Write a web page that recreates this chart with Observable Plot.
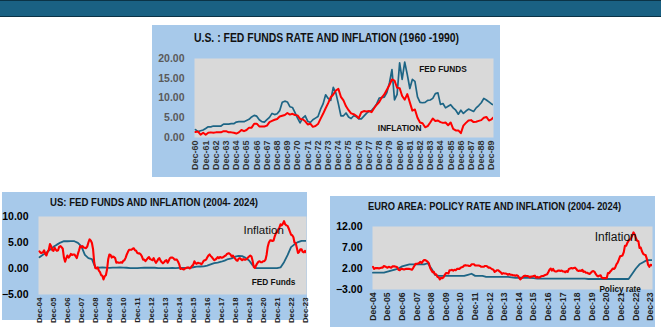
<!DOCTYPE html>
<html><head><meta charset="utf-8">
<script src="https://cdn.jsdelivr.net/npm/d3@7"></script>
<script src="https://cdn.jsdelivr.net/npm/@observablehq/plot@0.6"></script>
<style>
body{margin:0;width:661px;height:330px;overflow:hidden;background:#fff;font-family:"Liberation Sans",Arial,sans-serif;position:relative}
.bar{position:absolute;left:0;top:0;width:661px;height:15px;background:#1a6183;border-top:1px solid #0b3346;border-bottom:1px solid #0b3346}
.panel{position:absolute;background:#a7c9ea}
.title{position:absolute;white-space:nowrap;font-weight:bold;color:#111;transform-origin:left center;line-height:1}
.chart{position:absolute}
</style></head><body>
<div class="bar"></div>
<div class="panel" style="left:152px;top:25px;width:348px;height:152px"></div>
<div class="panel" style="left:2px;top:192px;width:305px;height:128px"></div>
<div class="panel" style="left:330px;top:196px;width:325px;height:131px"></div>
<script>
// ---- Data ----
const topYears = [1960, 1989];
const topFedFunds = [
2.0,
1.5,1.7,1.9,2.3, 2.7,2.7,2.9,2.9, 2.9,2.9,3.4,3.4, 3.4,3.5,3.5,3.9, 4.0,4.0,4.0,4.3,
4.6,5.2,5.6,5.4, 4.5,4.0,3.9,4.5, 5.1,6.1,5.8,6.0, 6.8,8.9,9.2,9.0, 7.8,7.6,6.3,4.9,
3.7,4.9,5.5,4.1, 3.8,4.5,4.9,5.3, 7.1,8.5,10.8,9.9, 9.4,12.7,11.3,8.5, 5.5,5.5,6.2,5.2,
4.8,5.5,5.3,4.7, 4.7,5.4,6.1,6.6, 6.8,7.6,8.5,10.0, 10.1,10.2,11.4,13.8, 17.2,9.5,10.9,18.9,
14.7,19.1,15.9,12.4, 14.7,14.2,10.3,8.9, 8.8,8.9,9.4,9.5, 9.9,11.1,11.3,8.4, 8.6,7.5,7.9,8.3,
7.5,6.9,5.9,6.9, 6.1,6.7,7.2,6.9, 6.6,7.5,8.1,8.8, 9.9,9.5,9.0,8.5,
8.2];
const topInflation = [
1.4,
1.5,0.7,1.2,0.7, 1.2,1.3,1.2,1.3, 1.3,1.3,1.6,1.6, 1.3,1.3,1.2,1.0, 1.3,1.9,1.6,1.9,
2.5,2.5,3.5,3.5, 2.8,2.8,2.8,3.0, 3.9,4.2,4.5,4.7, 5.3,5.5,5.7,6.2, 5.8,6.0,5.7,5.6,
4.7,4.6,4.1,3.3, 3.5,2.7,2.9,3.4, 4.7,6.0,7.4,8.7, 10.2,10.9,11.9,12.3, 10.3,9.4,7.9,6.9,
6.1,5.9,5.5,4.9, 6.4,6.7,6.6,6.7, 6.4,7.4,8.3,9.0, 10.1,10.9,12.1,13.3, 14.7,14.4,12.6,12.5,
10.5,9.6,11.0,8.9, 6.8,7.1,5.0,3.8, 3.6,2.6,2.9,3.8, 4.8,4.2,4.3,3.9, 3.7,3.8,3.1,3.8,
2.2,1.8,1.8,1.1, 3.0,3.7,4.3,4.4, 3.9,4.0,4.2,4.4, 5.0,5.2,4.3,4.6,
5.2];

const recentYears = [2004, 2023];
const usFedFunds = [
2.16,
2.63,3.04,3.62,4.16, 4.59,4.99,5.25,5.24, 5.26,5.25,4.94,4.24, 2.61,2.00,1.81,0.16,
0.18,0.21,0.15,0.12, 0.16,0.18,0.19,0.18, 0.14,0.09,0.08,0.07, 0.13,0.16,0.14,0.16,
0.14,0.09,0.08,0.09, 0.08,0.10,0.09,0.12, 0.11,0.13,0.14,0.24, 0.36,0.38,0.40,0.54,
0.79,1.04,1.15,1.30, 1.51,1.82,1.95,2.27, 2.41,2.38,2.04,1.55, 0.65,0.08,0.09,0.09,
0.07,0.08,0.08,0.08, 0.20,1.21,2.56,4.10, 4.65,5.08,5.33,5.33,
5.33];
const usInflation = [
3.3,
3.0,3.0,3.1,3.5,2.8,2.5,3.2,3.6,4.7,4.3,3.5,3.4,
4.0,3.6,3.4,3.5,4.2,4.3,4.1,3.8,2.1,1.3,2.0,2.5,
2.1,2.4,2.8,2.6,2.7,2.7,2.4,2.0,2.8,3.5,4.3,4.1,
4.3,4.0,4.0,3.9,4.2,5.0,5.6,5.4,4.9,3.7,1.1,0.1,
0.0,0.2,-0.4,-0.7,-1.3,-1.4,-2.1,-1.5,-1.3,-0.2,1.8,2.7,
2.6,2.1,2.3,2.2,2.0,1.1,1.2,1.1,1.1,1.2,1.1,1.5,
1.6,2.1,2.7,3.2,3.6,3.6,3.6,3.8,3.9,3.5,3.4,3.0,
2.9,2.9,2.7,2.3,1.7,1.7,1.4,1.7,2.0,2.2,1.8,1.7,
1.6,2.0,1.5,1.1,1.4,1.8,2.0,1.5,1.2,1.0,1.2,1.5,
1.6,1.1,1.5,2.0,2.1,2.1,2.0,1.7,1.7,1.7,1.3,0.8,
-0.1,0.0,-0.1,-0.2,0.0,0.1,0.2,0.2,0.0,0.2,0.5,0.7,
1.4,1.0,0.9,1.1,1.0,1.0,0.8,1.1,1.5,1.6,1.7,2.1,
2.5,2.7,2.4,2.2,1.9,1.6,1.7,1.9,2.2,2.0,2.2,2.1,
2.1,2.2,2.4,2.5,2.8,2.9,2.9,2.7,2.3,2.5,2.2,1.9,
1.6,1.5,1.9,2.0,1.8,1.6,1.8,1.7,1.7,1.8,2.1,2.3,
2.5,2.3,1.5,0.3,0.1,0.6,1.0,1.3,1.4,1.2,1.2,1.4,
1.4,1.7,2.6,4.2,5.0,5.4,5.4,5.3,5.4,6.2,6.8,7.0,
7.5,7.9,8.5,8.3,8.6,9.1,8.5,8.3,8.2,7.7,7.1,6.5,
6.4,6.0,5.0,4.9,4.0,3.0,3.2,3.7,3.7,3.2,3.1,3.4,
3.1,3.2];

const euroPolicyRate = [
1.0,
1.0,1.0,1.0,1.25, 1.5,1.75,2.0,2.5, 2.75,3.0,3.0,3.0, 3.0,3.0,3.25,2.0,
0.5,0.25,0.25,0.25, 0.25,0.25,0.25,0.25, 0.25,0.5,0.75,0.25, 0.25,0.25,0.0,0.0,
0.0,0.0,0.0,0.0, 0.0,-0.1,-0.2,-0.2, -0.2,-0.2,-0.2,-0.3, -0.4,-0.4,-0.4,-0.4,
-0.4,-0.4,-0.4,-0.4, -0.4,-0.4,-0.4,-0.4, -0.4,-0.4,-0.5,-0.5, -0.5,-0.5,-0.5,-0.5,
-0.5,-0.5,-0.5,-0.5, -0.5,-0.5,0.75,2.0, 3.0,3.5,4.0,4.0,
4.0];
const euroInflation = [
2.4,
1.9,2.1,2.1,2.1,2.0,2.1,2.2,2.2,2.6,2.5,2.3,2.2,
2.4,2.3,2.2,2.5,2.5,2.5,2.4,2.3,1.7,1.6,1.9,1.9,
1.8,1.8,1.9,1.9,1.9,1.9,1.8,1.7,2.1,2.6,3.1,3.1,
3.2,3.3,3.6,3.3,3.7,4.0,4.0,3.8,3.6,3.2,2.1,1.6,
1.1,1.2,0.6,0.6,0.0,-0.1,-0.6,-0.2,-0.3,-0.1,0.5,0.9,
0.9,0.8,1.6,1.6,1.7,1.5,1.7,1.6,1.9,1.9,1.9,2.2,
2.3,2.4,2.7,2.8,2.7,2.7,2.6,2.6,3.0,3.0,3.0,2.7,
2.7,2.7,2.7,2.6,2.4,2.4,2.4,2.6,2.6,2.5,2.2,2.2,
2.0,1.8,1.7,1.2,1.4,1.6,1.6,1.3,1.1,0.7,0.9,0.8,
0.8,0.7,0.5,0.7,0.5,0.5,0.4,0.4,0.3,0.4,0.3,-0.2,
-0.6,-0.3,-0.1,0.2,0.3,0.2,0.2,0.1,-0.1,0.1,0.1,0.2,
0.3,-0.2,0.0,-0.2,-0.1,0.1,0.2,0.2,0.4,0.5,0.6,1.1,
1.7,2.0,1.5,1.9,1.4,1.3,1.3,1.5,1.5,1.4,1.5,1.3,
1.3,1.1,1.4,1.2,1.9,2.0,2.1,2.0,2.1,2.2,1.9,1.5,
1.4,1.5,1.4,1.7,1.2,1.3,1.0,1.0,0.8,0.7,1.0,1.3,
1.4,1.2,0.7,0.3,0.1,0.3,0.4,-0.2,-0.3,-0.3,-0.3,-0.3,
0.9,0.9,1.3,1.6,2.0,1.9,2.2,3.0,3.4,4.1,4.9,5.0,
5.1,5.9,7.4,7.4,8.1,8.6,8.9,9.1,9.9,10.6,10.1,9.2,
8.6,8.5,6.9,7.0,6.1,5.5,5.3,5.2,4.3,2.9,2.4,2.9,
2.8,2.6];

const titles = [
  "U.S. : FED FUNDS RATE AND INFLATION (1960 -1990)",
  "US: FED FUNDS AND INFLATION (2004- 2024)",
  "EURO AREA: POLICY RATE AND INFLATION (2004- 2024)"
];
const topNotes = [{label: "FED FUNDS", date: "1985-03-01", value: 17.2}, {label: "INFLATION", date: "1980-12-01", value: 2.3}];
const usNotes = [{label: "Inflation", date: "2020-12-15", value: 7.3, big: true}, {label: "FED Funds", date: "2021-09-01", value: -2.7}];
const euroNotes = [{label: "Inflation", date: "2021-07-15", value: 9.4, big: true}, {label: "Policy rate", date: "2021-11-01", value: -3.0}];

// ---- helpers ----
const D = (y, m, d = 1) => new Date(Date.UTC(y, m, d));
const series = (y0, m0, step, vals) => vals.map((v, i) => ({date: D(y0, m0 + step * i), value: v}));
const decTicks = ([a, b]) => d3.range(a, b + 1).map(y => D(y, 11));
const notes = arr => arr.map(n => ({...n, date: new Date(n.date + "T00:00:00Z")}));
const TEAL = "#1d6585", RED = "#ff0000", GRAY = "#d9d9d9";
const FONT = "Liberation Sans, Arial, sans-serif";

function chart({left, top, width, height, mt, mr, mb, ml, xdom, years, ydom, yticks, rate, infl, nts, yfill, xfill, xsize, ysize, noteSize, bigSize, lw}) {
  const p = Plot.plot({
    width, height, marginTop: mt, marginRight: mr, marginBottom: mb, marginLeft: ml,
    style: {background: "none", overflow: "visible", fontFamily: FONT},
    x: {type: "utc", domain: xdom},
    y: {domain: ydom},
    marks: [
      Plot.frame({fill: GRAY, stroke: "none"}),
      Plot.axisY({ticks: yticks, tickFormat: d3.format(".2f"), tickSize: 0, tickPadding: 10, fontSize: ysize, fontWeight: "bold", fill: yfill, label: null}),
      Plot.axisX({ticks: decTicks(years), tickFormat: d3.utcFormat("%b-%y"), tickRotate: -90, tickSize: 0, tickPadding: 3, fontSize: xsize, fontWeight: "bold", fill: xfill, label: null}),
      Plot.line(rate, {x: "date", y: "value", stroke: TEAL, strokeWidth: lw, clip: true}),
      Plot.line(infl, {x: "date", y: "value", stroke: RED, strokeWidth: lw + 0.3, clip: true}),
      Plot.text(nts.filter(d => !d.big), {x: "date", y: "value", text: "label", fontSize: noteSize, fontWeight: "bold", fill: "#111"}),
      Plot.text(nts.filter(d => d.big), {x: "date", y: "value", text: "label", fontSize: bigSize, fill: "#111"})
    ]
  });
  const div = document.createElement("div");
  div.className = "chart";
  div.style.left = left + "px"; div.style.top = top + "px";
  div.appendChild(p);
  document.body.appendChild(div);
}

function addTitle(text, cx, cy, w, size) {
  const d = document.createElement("div");
  d.className = "title"; d.textContent = text; d.style.fontSize = size + "px";
  document.body.appendChild(d);
  const r = d.getBoundingClientRect();
  d.style.left = (cx - w / 2) + "px";
  d.style.top = (cy - r.height / 2) + "px";
  d.style.transform = `scaleX(${w / r.width})`;
}

chart({left: 152, top: 50, width: 348, height: 127, mt: 8, mr: 7, mb: 40, ml: 42,
  xdom: [D(1960, 9, 26), D(1990, 1, 11)], years: topYears, ydom: [0, 20], yticks: [0, 5, 10, 15, 20],
  rate: series(1960, 11, 3, topFedFunds), infl: series(1960, 11, 3, topInflation), nts: notes(topNotes),
  yfill: "#5a5a5a", xfill: "#333", xsize: 9, ysize: 10.5, noteSize: 8.3, bigSize: 11, lw: 1.7});

chart({left: 2, top: 208, width: 305, height: 112, mt: 8, mr: 1, mb: 26, ml: 36,
  xdom: [D(2004, 10, 5), D(2024, 0, 9)], years: recentYears, ydom: [-5, 10], yticks: [-5, 0, 5, 10],
  rate: series(2004, 11, 3, usFedFunds), infl: series(2004, 11, 1, usInflation), nts: notes(usNotes),
  yfill: "#000", xfill: "#222", xsize: 7.8, ysize: 10.5, noteSize: 8.3, bigSize: 11.5, lw: 1.8});

chart({left: 330, top: 218, width: 325, height: 109, mt: 8, mr: 3, mb: 38, ml: 42,
  xdom: [D(2004, 10, 20), D(2024, 0, 20)], years: recentYears, ydom: [-3, 12], yticks: [-3, 2, 7, 12],
  rate: series(2004, 11, 3, euroPolicyRate), infl: series(2004, 11, 1, euroInflation), nts: notes(euroNotes),
  yfill: "#000", xfill: "#222", xsize: 8.6, ysize: 10.5, noteSize: 8.2, bigSize: 12, lw: 1.8});

addTitle(titles[0], 326, 38, 265, 12);
addTitle(titles[1], 154, 203, 208, 11.5);
addTitle(titles[2], 494.5, 207, 253, 11.5);
</script>
</body></html>
